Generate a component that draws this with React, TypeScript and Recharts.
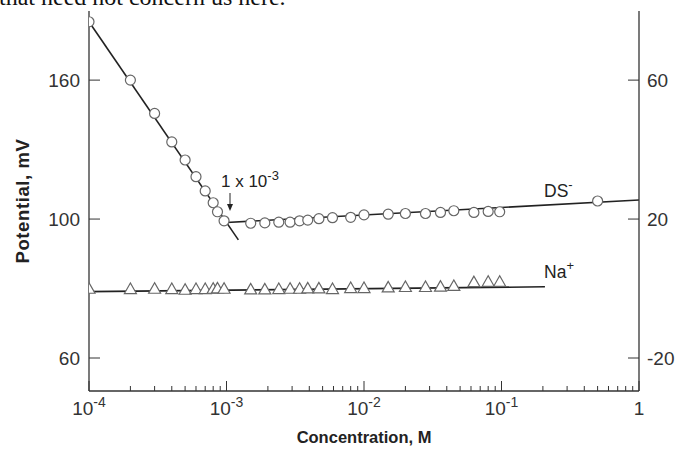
import React from 'react';
import { ComposedChart, XAxis, YAxis, Line, Scatter } from 'recharts';

// Concentrations (M)
const dsConc = [
  1e-4, 2e-4, 3e-4, 4e-4, 5e-4, 6e-4, 7e-4, 8e-4, 8.6e-4, 9.6e-4,
  1.5e-3, 1.9e-3, 2.4e-3, 2.9e-3, 3.4e-3, 3.9e-3, 4.7e-3, 5.9e-3, 8e-3, 1e-2,
  1.5e-2, 2e-2, 2.8e-2, 3.6e-2, 4.5e-2, 6.3e-2, 8e-2, 0.097, 0.5,
];
// DS- potential (left-axis units)
const dsPotential = [
  156.8, 140.0, 130.4, 122.2, 117.0, 112.2, 108.1, 104.7, 102.1, 99.5,
  98.8, 98.9, 99.1, 99.1, 99.5, 99.7, 100.1, 100.4, 100.5, 101.2,
  101.4, 101.6, 101.6, 101.9, 102.4, 101.9, 102.2, 102.1, 105.2,
];
const naConc = [
  1e-4, 2e-4, 3e-4, 4e-4, 5e-4, 6e-4, 7e-4, 8e-4, 8.6e-4, 9.6e-4,
  1.5e-3, 1.9e-3, 2.4e-3, 2.9e-3, 3.4e-3, 3.9e-3, 4.7e-3, 5.9e-3, 8e-3, 1e-2,
  1.5e-2, 2e-2, 2.8e-2, 3.6e-2, 4.5e-2, 6.3e-2, 8e-2, 0.097,
];
const naPotential = [
  79.8, 79.7, 79.8, 79.7, 79.5, 79.7, 79.7, 79.8, 79.9, 79.8,
  79.6, 79.6, 79.7, 79.8, 79.8, 79.9, 79.9, 79.7, 80.0, 80.0,
  80.2, 80.3, 80.3, 80.4, 80.6, 81.7, 81.8, 81.8,
];
// Fitted straight lines (end points)
const steepLineConc = [1e-4, 1.22e-3];
const steepLinePot = [156.8, 94.0];
const dsFlatConc = [1e-3, 1];
const dsFlatPot = [99.0, 105.5];
const naLineConc = [1e-4, 0.207];
const naLinePot = [79.1, 80.5];

// Axes
const xDomain = [1e-4, 1];
const xTicks = [
  1e-4, 2e-4, 3e-4, 4e-4, 5e-4, 6e-4, 7e-4, 8e-4, 9e-4,
  1e-3, 2e-3, 3e-3, 4e-3, 5e-3, 6e-3, 7e-3, 8e-3, 9e-3,
  1e-2, 2e-2, 3e-2, 4e-2, 5e-2, 6e-2, 7e-2, 8e-2, 9e-2,
  1e-1, 2e-1, 3e-1, 4e-1, 5e-1, 6e-1, 7e-1, 8e-1, 9e-1, 1,
];
const xMajor = [1e-4, 1e-3, 1e-2, 1e-1, 1];
const xMajorExp = ['-4', '-3', '-2', '-1', ''];
const leftDomain = [50.5, 159.9];
const leftTicks = [60, 100, 140];
const leftTickLabels = ['60', '100', '160'];
const rightDomain = [-29.5, 79.9];
const rightTicks = [-20, 20, 60];
const rightTickLabels = ['-20', '20', '60'];

const zip = (xs: number[], ys: number[]) => xs.map((x, i) => ({ x, y: ys[i] }));
const dsData = zip(dsConc, dsPotential);
const naData = zip(naConc, naPotential);
const steepData = zip(steepLineConc, steepLinePot);
const dsFlatData = zip(dsFlatConc, dsFlatPot);
const naLineData = zip(naLineConc, naLinePot);

const FONT = '"Liberation Sans", Arial, Helvetica, sans-serif';
const AX = '#333';

const XTick = (props: any) => {
  const { x, y, payload } = props;
  const v = payload.value;
  const idx = xMajor.findIndex((m) => Math.abs(Math.log10(m) - Math.log10(v)) < 1e-6);
  const major = idx >= 0;
  return (
    <g>
      <line x1={x} x2={x} y1={y} y2={y - (major ? 10 : 5)} stroke={AX} strokeWidth={1} />
      {major && (
        xMajorExp[idx] ? (
          <text x={x} y={y + 24} textAnchor="middle" fontSize={19} fontFamily={FONT} fill="#333">
            10<tspan dy={-8} fontSize={14}>{xMajorExp[idx]}</tspan>
          </text>
        ) : (
          <text x={x} y={y + 24} textAnchor="middle" fontSize={19} fontFamily={FONT} fill="#333">1</text>
        )
      )}
    </g>
  );
};

const LeftTick = (props: any) => {
  const { x, y, payload } = props;
  const i = leftTicks.indexOf(payload.value);
  return (
    <g>
      <line x1={x} x2={x + 11} y1={y} y2={y} stroke={AX} strokeWidth={1} />
      <text x={x - 9} y={y} dy="0.36em" textAnchor="end" fontSize={19} fontFamily={FONT} fill="#333">
        {leftTickLabels[i]}
      </text>
    </g>
  );
};

const RightTick = (props: any) => {
  const { x, y, payload } = props;
  const i = rightTicks.indexOf(payload.value);
  return (
    <g>
      <line x1={x} x2={x - 11} y1={y} y2={y} stroke={AX} strokeWidth={1} />
      <text x={x + 8} y={y} dy="0.36em" textAnchor="start" fontSize={19} fontFamily={FONT} fill="#333">
        {rightTickLabels[i]}
      </text>
    </g>
  );
};

const CircleShape = (props: any) => (
  <circle cx={props.cx} cy={props.cy} r={5} fill="#fff" stroke="#666" strokeWidth={1.2} />
);
const TriangleShape = (props: any) => {
  const { cx, cy } = props;
  return (
    <polygon
      points={`${cx},${cy - 6.5} ${cx - 6},${cy + 4} ${cx + 6},${cy + 4}`}
      fill="#fff"
      stroke="#666"
      strokeWidth={1.2}
    />
  );
};

export default function App() {
  return (
    <div style={{ position: 'absolute', left: 0, top: 0, width: 676, height: 450, background: '#fff', overflow: 'hidden' }}>
      <ComposedChart width={676} height={450} margin={{ top: 11, right: 0, bottom: 0, left: 0 }}>
        <XAxis
          dataKey="x"
          type="number"
          scale="log"
          domain={xDomain}
          allowDataOverflow
          ticks={xTicks}
          interval={0}
          tickSize={0}
          tickMargin={0}
          tickLine={false}
          tick={<XTick />}
          height={59}
          axisLine={{ stroke: AX, strokeWidth: 1.3 }}
        />
        <XAxis
          xAxisId="top"
          orientation="top"
          type="number"
          domain={[0, 1]}
          tick={false}
          tickLine={false}
          height={0}
          axisLine={{ stroke: '#222', strokeWidth: 1.5 }}
        />
        <YAxis
          yAxisId="left"
          dataKey="y"
          type="number"
          domain={leftDomain}
          allowDataOverflow
          ticks={leftTicks}
          interval={0}
          tickSize={0}
          tickMargin={0}
          tickLine={false}
          tick={<LeftTick />}
          width={89}
          axisLine={{ stroke: AX, strokeWidth: 1.3 }}
        />
        <YAxis
          yAxisId="right"
          orientation="right"
          type="number"
          domain={rightDomain}
          allowDataOverflow
          ticks={rightTicks}
          interval={0}
          tickSize={0}
          tickMargin={0}
          tickLine={false}
          tick={<RightTick />}
          width={37}
          axisLine={{ stroke: AX, strokeWidth: 1.3 }}
        />
        <Line data={steepData} dataKey="y" yAxisId="left" stroke="#222" strokeWidth={1.6} dot={false} isAnimationActive={false} />
        <Line data={dsFlatData} dataKey="y" yAxisId="left" stroke="#222" strokeWidth={1.6} dot={false} isAnimationActive={false} />
        <Line data={naLineData} dataKey="y" yAxisId="left" stroke="#222" strokeWidth={1.6} dot={false} isAnimationActive={false} />
        <Scatter data={naData} dataKey="y" yAxisId="left" shape={TriangleShape} isAnimationActive={false} />
        <Scatter data={dsData} dataKey="y" yAxisId="left" shape={CircleShape} isAnimationActive={false} />
      </ComposedChart>
      <svg width={676} height={450} style={{ position: 'absolute', left: 0, top: 0, pointerEvents: 'none' }}>
        <text x={-1} y={5} fontSize={24} fontFamily='"Liberation Serif", "Times New Roman", serif' fill="#111">
          that need not concern us here.
        </text>
        <text x={22} y={201} transform="rotate(-90 22 201)" textAnchor="middle" dominantBaseline="central" fontSize={18.5} letterSpacing={0.6} fontWeight="bold" fontFamily={FONT} fill="#222">
          Potential, mV
        </text>
        <text x={364} y={443} textAnchor="middle" fontSize={16.5} fontWeight="bold" fontFamily={FONT} fill="#222">
          Concentration, M
        </text>
        <text x={221} y={187} fontSize={17} fontFamily={FONT} fill="#222">
          1 x 10<tspan dy={-7} fontSize={13}>-3</tspan>
        </text>
        <line x1={230} x2={230} y1={193} y2={209} stroke="#222" strokeWidth={1} />
        <polygon points="227,204 233,204 230,211" fill="#222" />
        <text x={544} y={197} fontSize={17.5} fontFamily={FONT} fill="#222">
          DS<tspan dy={-8} fontSize={13}>-</tspan>
        </text>
        <text x={544} y={278} fontSize={17.5} fontFamily={FONT} fill="#222">
          Na<tspan dy={-8} fontSize={13}>+</tspan>
        </text>
      </svg>
    </div>
  );
}
